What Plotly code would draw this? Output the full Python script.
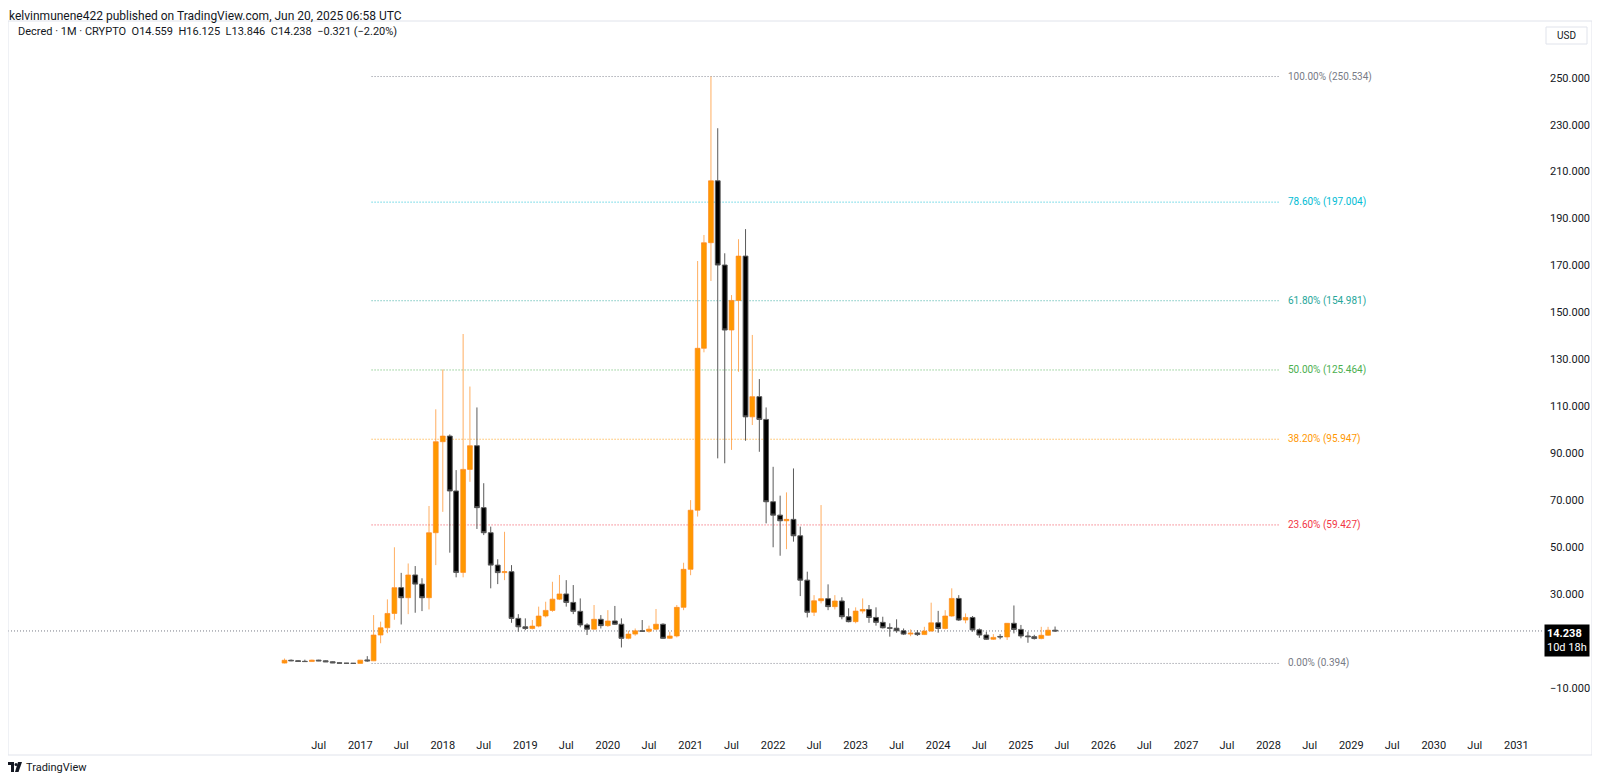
import pandas as pd
import plotly.graph_objects as go

# ---------------- data ----------------
start_month = "2016-02-01"
n_months = 113
months = pd.date_range(start_month, periods=n_months, freq="MS")

opens = [
    0.55, 1.75, 1.55, 1.3, 1.2, 1.8, 1.5, 1.1, 0.65, 0.5, 0.45,
    0.42, 1.9, 1.5, 12.5, 15.6, 21.7, 32.7, 28.4, 38.1, 34.2, 28.4, 56.1,
    94.9, 97.3, 73.9, 39.2, 83.1, 93.2, 66.8, 56.1, 42.3, 39.1, 39.5, 19.6,
    16.0, 15.3, 16.3, 20.6, 23.0, 27.8, 30.0, 26.4, 22.6, 16.8, 15.0, 19.2,
    16.5, 18.5, 17.1, 11.1, 12.9, 14.3, 14.1, 15.0, 17.1, 11.1, 12.1, 24.3,
    40.5, 65.7, 134.7, 179.7, 206.1, 170.2, 142.5, 155.1, 174.0, 105.5, 114.1, 104.4,
    69.3, 63.6, 61.2, 61.8, 54.8, 35.9, 22.2, 27.1, 28.0, 24.6, 27.0, 20.3,
    18.2, 22.7, 23.4, 20.0, 17.9, 15.6, 15.4, 14.3, 12.9, 13.4, 12.7, 14.2,
    17.7, 15.3, 20.6, 28.1, 18.9, 20.0, 14.7, 12.5, 10.7, 11.9, 11.7, 17.5,
    14.9, 12.1, 11.8, 11.0, 12.4, 14.559,
]
highs = [
    2.5, 2.1, 1.8, 2.0, 2.0, 1.95, 1.7, 1.3, 0.85, 0.6, 0.5,
    1.9, 3.5, 21.0, 18.2, 27.7, 49.9, 39.0, 43.0, 41.9, 36.7, 67.5, 108.7,
    125.7, 98.0, 82.8, 140.8, 118.4, 109.5, 77.2, 58.7, 44.8, 56.5, 42.3, 21.4,
    19.6, 18.9, 24.6, 26.7, 35.2, 38.1, 35.9, 33.8, 28.1, 17.5, 25.3, 21.0,
    23.1, 24.9, 19.6, 14.3, 15.3, 18.9, 16.5, 23.6, 17.5, 13.9, 25.3, 43.3,
    70.0, 171.9, 183.0, 250.534, 228.5, 175.2, 157.4, 181.2, 185.5, 140.4, 121.6, 109.5,
    84.2, 71.9, 73.3, 83.5, 58.7, 39.5, 29.5, 67.9, 34.1, 29.5, 28.6, 23.9,
    24.3, 28.1, 25.3, 24.3, 20.3, 17.5, 19.2, 15.3, 14.9, 14.6, 16.0, 26.3,
    22.8, 23.1, 32.4, 29.5, 21.7, 20.6, 15.3, 13.9, 12.9, 12.9, 17.6, 25.1,
    16.8, 13.9, 12.6, 16.0, 16.0, 16.125,
]
lows = [
    0.394, 1.35, 1.1, 1.1, 1.1, 1.4, 1.0, 0.55, 0.45, 0.4, 0.4,
    0.41, 1.1, 1.4, 9.0, 13.3, 19.0, 17.0, 21.4, 22.0, 22.7, 23.4, 42.3,
    65.0, 47.6, 37.1, 37.1, 77.8, 57.7, 55.1, 32.4, 34.2, 35.9, 17.7, 13.9,
    14.6, 14.9, 15.8, 20.0, 22.4, 27.4, 24.6, 21.4, 15.8, 12.5, 14.9, 15.3,
    16.0, 16.8, 7.2, 10.7, 12.2, 13.9, 13.5, 14.6, 10.8, 10.8, 11.5, 23.1,
    38.0, 63.0, 133.0, 163.4, 87.8, 85.7, 91.4, 124.7, 95.3, 102.0, 90.6, 60.1,
    49.9, 46.3, 49.1, 52.3, 29.1, 20.0, 20.6, 26.0, 23.1, 23.4, 19.2, 17.9,
    17.5, 21.7, 17.7, 16.5, 15.3, 11.8, 13.5, 12.5, 12.0, 12.1, 12.5, 13.9,
    13.5, 14.9, 20.3, 18.5, 17.5, 13.9, 11.3, 10.4, 10.4, 10.7, 10.4, 13.2,
    11.1, 9.2, 10.6, 10.7, 12.1, 13.846,
]
closes = [
    1.75, 1.55, 1.25, 1.2, 1.8, 1.5, 1.1, 0.65, 0.5, 0.45, 0.42,
    1.8, 1.5, 12.5, 15.6, 21.7, 32.7, 28.4, 38.1, 34.2, 28.4, 56.1, 94.9,
    97.3, 73.9, 39.2, 83.1, 93.2, 66.8, 56.1, 42.3, 39.1, 39.5, 19.6, 16.0,
    15.3, 16.3, 20.6, 23.0, 27.8, 30.0, 26.4, 22.6, 16.8, 15.0, 19.2, 16.5,
    18.5, 17.1, 11.1, 12.9, 14.3, 14.1, 15.0, 17.1, 11.1, 12.1, 24.3, 40.5,
    65.7, 134.7, 179.7, 206.1, 170.2, 142.5, 155.1, 174.0, 105.5, 114.1, 104.4, 69.3,
    63.6, 61.2, 61.8, 54.8, 35.9, 22.2, 27.1, 28.0, 24.6, 27.0, 20.3, 18.2,
    22.7, 23.4, 20.0, 17.9, 15.6, 15.4, 14.3, 12.9, 13.3, 12.7, 14.2, 17.7,
    15.3, 20.6, 28.1, 18.9, 20.0, 14.7, 12.5, 10.7, 11.5, 11.7, 17.5, 14.9,
    12.1, 11.8, 11.0, 12.4, 14.559, 14.238,
]

last_price = 14.238
countdown = "10d 18h"

fib_ratios = ["100.00%", "78.60%", "61.80%", "50.00%", "38.20%", "23.60%", "0.00%"]
fib_prices = [250.534, 197.004, 154.981, 125.464, 95.947, 59.427, 0.394]
fib_colors = ["#787B86", "#00BCD4", "#26A69A", "#4CAF50", "#FF9800", "#F23645", "#787B86"]
fib_start = "2017-02-20"
fib_end = "2028-02-20"

x_tick_dates = ["2016-07-01", "2017-01-01", "2017-07-01", "2018-01-01", "2018-07-01",
                "2019-01-01", "2019-07-01", "2020-01-01", "2020-07-01", "2021-01-01",
                "2021-07-01", "2022-01-01", "2022-07-01", "2023-01-01", "2023-07-01",
                "2024-01-01", "2024-07-01", "2025-01-01", "2025-07-01", "2026-01-01",
                "2026-07-01", "2027-01-01", "2027-07-01", "2028-01-01", "2028-07-01",
                "2029-01-01", "2029-07-01", "2030-01-01", "2030-07-01", "2031-01-01"]
x_tick_text = ["Jul", "2017", "Jul", "2018", "Jul", "2019", "Jul", "2020", "Jul", "2021",
               "Jul", "2022", "Jul", "2023", "Jul", "2024", "Jul", "2025", "Jul", "2026",
               "Jul", "2027", "Jul", "2028", "Jul", "2029", "Jul", "2030", "Jul", "2031"]
y_tick_vals = [-10, 30, 50, 70, 90, 110, 130, 150, 170, 190, 210, 230, 250]

header_text = "kelvinmunene422 published on TradingView.com, Jun 20, 2025 06:58 UTC"
legend_text = ("Decred · 1M · CRYPTO&nbsp;&nbsp;O14.559&nbsp;&nbsp;H16.125&nbsp;&nbsp;"
               "L13.846&nbsp;&nbsp;C14.238&nbsp;&nbsp;−0.321 (−2.20%)")

# ---------------- layout geometry ----------------
# the page body adds an 8px margin around the figure
BODY = 8
W_FIG, H_FIG = 1600 - 2 * BODY, 783 - 2 * BODY
PLOT_L, PLOT_T = 8, 21          # plot area position in page pixels
PW, PH = 1535, 710
FONT = "Roboto, 'Liberation Sans', sans-serif"
TXT = "#131722"


def px(x):
    return (x - PLOT_L) / PW


def py(y):
    return (PLOT_T + PH - y) / PH


fig = go.Figure()
fig.add_trace(go.Candlestick(
    x=months, open=opens, high=highs, low=lows, close=closes,
    increasing=dict(fillcolor="#FF9800", line=dict(color="rgba(255,140,30,0.7)", width=1)),
    decreasing=dict(fillcolor="#000000", line=dict(color="#5a5a5a", width=1)),
    whiskerwidth=0, hoverinfo="skip", showlegend=False,
))

shapes = []
annotations = []

# Fibonacci levels
for ratio, price, col in zip(fib_ratios, fib_prices, fib_colors):
    shapes.append(dict(type="line", xref="x", yref="y", x0=fib_start, x1=fib_end,
                       y0=price, y1=price, line=dict(color=col, width=1, dash="1px,2px"),
                       opacity=0.9, layer="below"))
    annotations.append(dict(xref="x", yref="y", x=fib_end, y=price, xanchor="left",
                            yanchor="middle", xshift=6, showarrow=False,
                            text=f"{ratio} ({price:.3f})",
                            font=dict(family=FONT, size=10, color=col)))

# current price line
shapes.append(dict(type="line", xref="paper", yref="y", x0=0, x1=1,
                   y0=last_price, y1=last_price,
                   line=dict(color="#787B86", width=1, dash="1px,2px"), layer="below"))
annotations.append(dict(xref="paper", yref="y", x=1, y=last_price, xanchor="left",
                        yanchor="top", xshift=1, yshift=7, showarrow=False,
                        text=f"<b>{last_price:.3f}</b><br>{countdown}", align="left",
                        bgcolor="#000000", borderpad=2,
                        font=dict(family=FONT, size=11, color="#ffffff")))

# frame
shapes.append(dict(type="rect", xref="paper", yref="paper", x0=px(8), x1=px(1592),
                   y0=py(755), y1=py(21), line=dict(color="#E0E3EB", width=1),
                   fillcolor="rgba(0,0,0,0)"))
# USD box
shapes.append(dict(type="rect", xref="paper", yref="paper", x0=px(1546), x1=px(1587),
                   y0=py(44), y1=py(27), line=dict(color="#E0E3EB", width=1),
                   fillcolor="#ffffff"))
annotations.append(dict(xref="paper", yref="paper", x=px(1566.5), y=py(35.5),
                        xanchor="center", yanchor="middle", showarrow=False, text="USD",
                        font=dict(family=FONT, size=10, color=TXT)))

# header and legend
annotations.append(dict(xref="paper", yref="paper", x=px(8), y=py(8), xanchor="left",
                        yanchor="top", borderpad=0, showarrow=False, text=header_text,
                        font=dict(family=FONT, size=12, color=TXT)))
annotations.append(dict(xref="paper", yref="paper", x=px(16), y=py(32), xanchor="left",
                        yanchor="middle", showarrow=False, text=legend_text,
                        font=dict(family=FONT, size=11, color=TXT)))

# TradingView logo
shapes.append(dict(type="path", xref="paper", yref="paper",
                   path=(f"M {px(8)} {py(762)} L {px(14)} {py(762)} L {px(14)} {py(772)} "
                         f"L {px(11)} {py(772)} L {px(11)} {py(765)} L {px(8)} {py(765)} Z"),
                   fillcolor=TXT, line=dict(width=0)))
shapes.append(dict(type="circle", xref="paper", yref="paper", x0=px(14.5), x1=px(17.5),
                   y0=py(766), y1=py(763), fillcolor=TXT, line=dict(width=0)))
shapes.append(dict(type="path", xref="paper", yref="paper",
                   path=(f"M {px(18)} {py(762)} L {px(22)} {py(762)} L {px(18.5)} {py(772)} "
                         f"L {px(15)} {py(772)} Z"),
                   fillcolor=TXT, line=dict(width=0)))
annotations.append(dict(xref="paper", yref="paper", x=px(24), y=py(767.5), xanchor="left",
                        yanchor="middle", showarrow=False, text="TradingView",
                        font=dict(family=FONT, size=11, color=TXT)))

fig.update_layout(
    width=W_FIG, height=H_FIG,
    margin=dict(l=PLOT_L - BODY, r=W_FIG - (PLOT_L - BODY) - PW, t=PLOT_T - BODY,
                b=H_FIG - (PLOT_T - BODY) - PH, pad=0),
    paper_bgcolor="#ffffff", plot_bgcolor="#ffffff",
    shapes=shapes, annotations=annotations, showlegend=False,
    boxgap=0.2, boxgroupgap=0.05,
    font=dict(family=FONT, size=11, color=TXT),
    xaxis=dict(type="date", range=["2012-09-26", "2031-04-29"], rangeslider=dict(visible=False),
               tickmode="array", tickvals=x_tick_dates, ticktext=x_tick_text,
               showgrid=False, zeroline=False, showline=False, ticks="",
               ticklabelstandoff=6, tickfont=dict(family=FONT, size=11, color=TXT),
               fixedrange=True),
    yaxis=dict(side="right", range=[-28.4, 274.2], tickmode="array", tickvals=y_tick_vals,
               tickformat=".3f", showgrid=False, zeroline=False, showline=False, ticks="",
               ticklabelstandoff=6, tickfont=dict(family=FONT, size=11, color=TXT),
               fixedrange=True),
)

fig.write_html("out.html")
